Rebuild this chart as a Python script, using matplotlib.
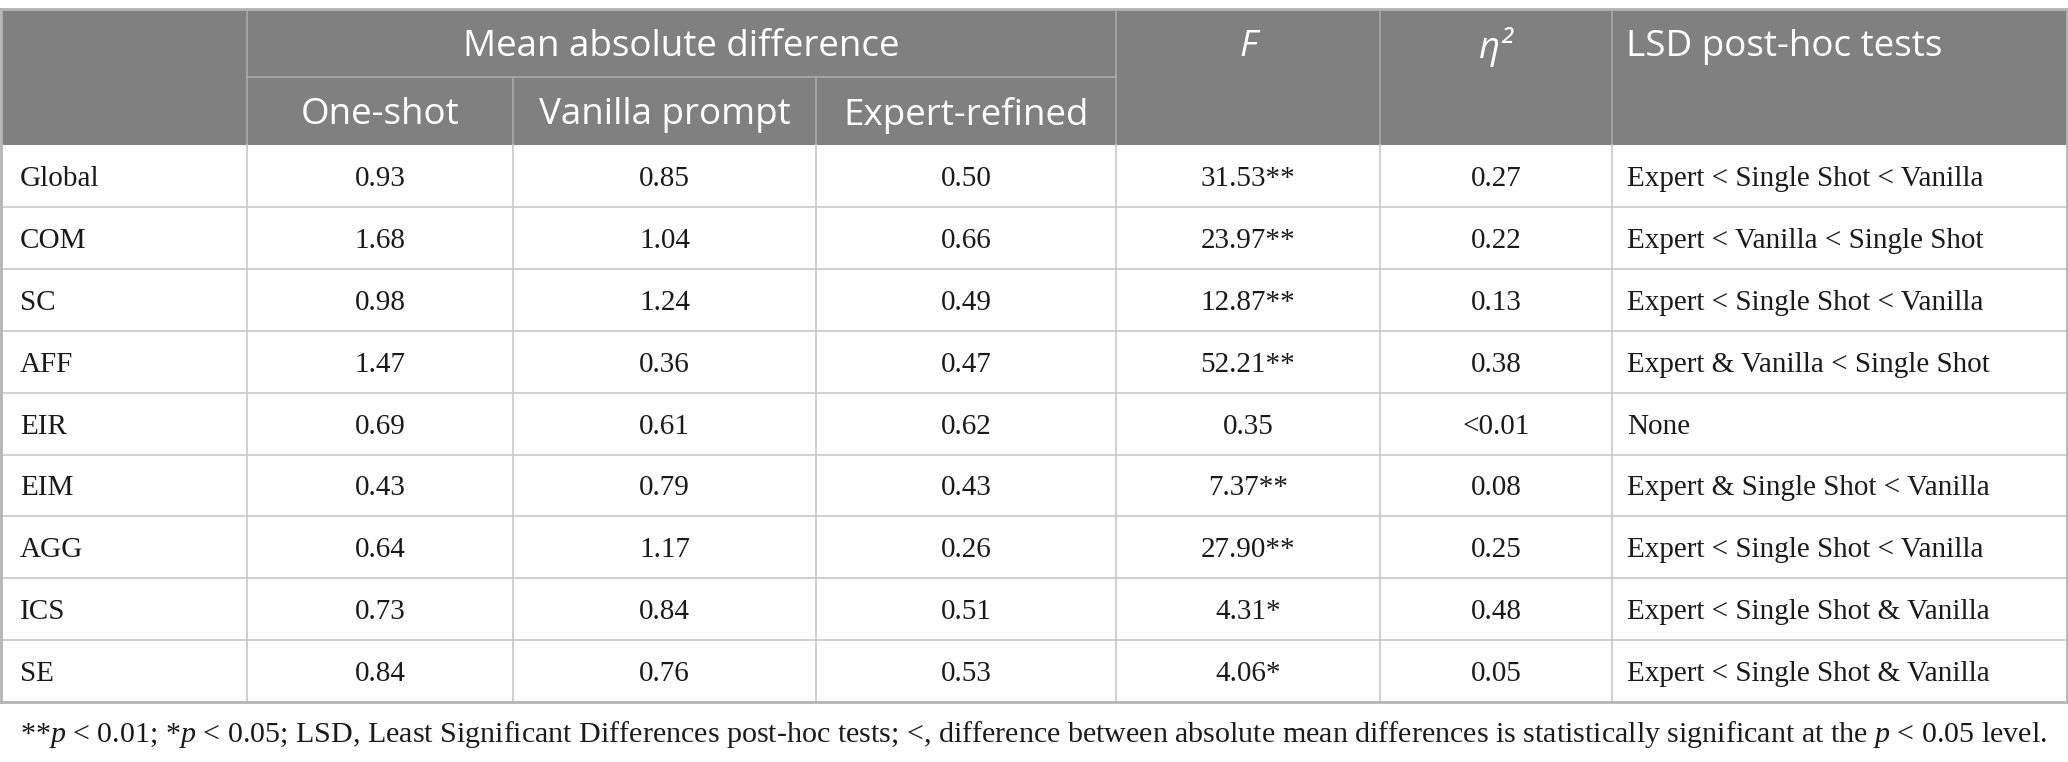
import matplotlib
matplotlib.use("Agg")
import matplotlib.pyplot as plt
from matplotlib.patches import Rectangle

plt.rcParams['mathtext.fontset'] = 'custom'
plt.rcParams['mathtext.rm'] = 'Liberation Serif'
plt.rcParams['mathtext.it'] = 'Liberation Serif:italic'

# table content
rows = ["Global", "COM", "SC", "AFF", "EIR", "EIM", "AGG", "ICS", "SE"]
one_shot = ["0.93", "1.68", "0.98", "1.47", "0.69", "0.43", "0.64", "0.73", "0.84"]
vanilla = ["0.85", "1.04", "1.24", "0.36", "0.61", "0.79", "1.17", "0.84", "0.76"]
expert = ["0.50", "0.66", "0.49", "0.47", "0.62", "0.43", "0.26", "0.51", "0.53"]
f_vals = ["31.53**", "23.97**", "12.87**", "52.21**", "0.35", "7.37**", "27.90**", "4.31*", "4.06*"]
eta_sq = ["0.27", "0.22", "0.13", "0.38", "<0.01", "0.08", "0.25", "0.48", "0.05"]
lsd = ["Expert < Single Shot < Vanilla",
       "Expert < Vanilla < Single Shot",
       "Expert < Single Shot < Vanilla",
       "Expert & Vanilla < Single Shot",
       "None",
       "Expert & Single Shot < Vanilla",
       "Expert < Single Shot < Vanilla",
       "Expert < Single Shot & Vanilla",
       "Expert < Single Shot & Vanilla"]
sub_heads = ["One-shot", "Vanilla prompt", "Expert-refined"]
footnote = ("**$p$ < 0.01; *$p$ < 0.05; LSD, Least Significant Differences post-hoc tests; "
            "<, difference between absolute mean differences is statistically significant at the $p$ < 0.05 level.")

# layout in pixels
W, H = 2068, 762
col_x = [1, 247, 513, 816, 1116, 1380, 1612, 2067]
top, mid, head_bot = 9, 77, 145
row_h = 61.9

header_bg = "#7f807f"
line_in = "#c8c8c8"
line_out = "#b4b4b4"
head_font = "Open Sans"
body_font = "Liberation Serif"
hfs = 26.5
bfs = 21
txt = "#1a1a1a"

fig = plt.figure(figsize=(W / 100, H / 100), dpi=100)
ax = fig.add_axes([0, 0, 1, 1])
ax.set_xlim(0, W)
ax.set_ylim(H, 0)
ax.axis("off")

# header block
ax.add_patch(Rectangle((col_x[0], top), col_x[-1] - col_x[0], head_bot - top,
                       facecolor=header_bg, edgecolor="none"))
hl = "#a9aaa9"
ax.plot([col_x[1], col_x[4]], [mid, mid], color=hl, lw=1.2)
for i, x in enumerate(col_x[1:-1], start=1):
    y0 = mid if i in (2, 3) else top
    ax.plot([x, x], [y0, head_bot], color=hl, lw=1.2)

y1 = (top + mid) / 2 + 4
y2 = (mid + head_bot) / 2 + 4
ax.text((col_x[1] + col_x[4]) / 2, y1, "Mean absolute difference",
        family=head_font, fontsize=hfs, color="white", ha="center", va="center")
for j, s in enumerate(sub_heads):
    ax.text((col_x[j + 1] + col_x[j + 2]) / 2, y2, s,
            family=head_font, fontsize=hfs, color="white", ha="center", va="center")
ax.text((col_x[4] + col_x[5]) / 2, y1, "F", family=head_font,
        style="italic", fontsize=hfs, color="white", ha="center", va="center")
ax.text((col_x[5] + col_x[6]) / 2, y1, "η²", family=head_font,
        style="italic", fontsize=hfs, color="white", ha="center", va="center")
ax.text(col_x[6] + 14, y1, "LSD post-hoc tests", family=head_font,
        fontsize=hfs, color="white", ha="left", va="center")

# body rows
n = len(rows)
bottom = head_bot + n * row_h
for i in range(n):
    yc = head_bot + (i + 0.5) * row_h + 3
    ax.text(col_x[0] + 19, yc, rows[i], family=body_font, fontsize=bfs,
            ha="left", va="center", color=txt)
    for j, vals in enumerate([one_shot, vanilla, expert, f_vals, eta_sq]):
        ax.text((col_x[j + 1] + col_x[j + 2]) / 2, yc, vals[i], family=body_font,
                fontsize=bfs, ha="center", va="center", color=txt)
    ax.text(col_x[6] + 15, yc, lsd[i], family=body_font, fontsize=bfs,
            ha="left", va="center", color=txt)
    if i > 0:
        ax.plot([col_x[0], col_x[-1]], [head_bot + i * row_h] * 2, color=line_in, lw=1.2)

for x in col_x[1:-1]:
    ax.plot([x, x], [head_bot, bottom], color=line_in, lw=1.2)

# outer frame
ax.plot([col_x[0], col_x[-1]], [top, top], color=line_out, lw=2)
ax.plot([col_x[0], col_x[-1]], [bottom, bottom], color=line_out, lw=2)
ax.plot([col_x[0], col_x[0]], [top, bottom], color=line_out, lw=2)
ax.plot([col_x[-1], col_x[-1]], [top, bottom], color=line_out, lw=2)

ax.text(20, 734, footnote, family=body_font, fontsize=21.6, ha="left", va="center",
        color=txt)

fig.savefig("out.png", dpi=100)
